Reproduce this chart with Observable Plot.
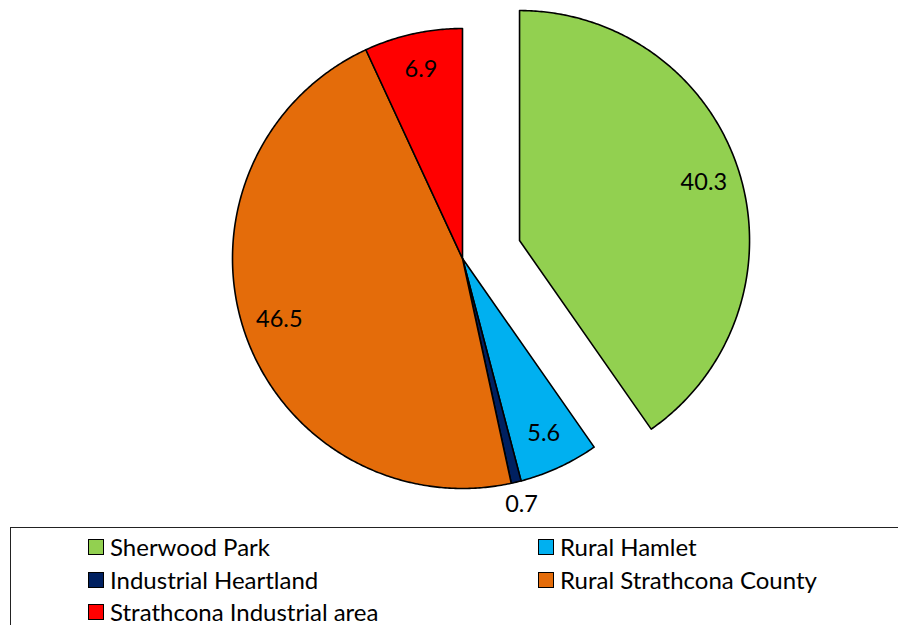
<!DOCTYPE html>
<html>
<head>
<meta charset="utf-8">
<script src="https://cdn.jsdelivr.net/npm/d3@7"></script>
<script src="https://cdn.jsdelivr.net/npm/@observablehq/plot@0.6"></script>
<style>
  body { margin: 0; background: #fff; font-family: Lato, "Open Sans", sans-serif; }
  #chart svg { display: block; }
  .legend { position: relative; margin-left: 10px; width: 900px; height: 110px; border: 1px solid #222; box-sizing: border-box; }
  .item { position: absolute; display: flex; align-items: center; font-size: 24px; line-height: 28px; color: #000; white-space: nowrap; }
  .sw { width: 16px; height: 16px; border: 1.5px solid #000; margin-right: 6px; box-sizing: border-box; }
</style>
</head>
<body>
<div id="chart"></div>
<div class="legend" id="legend"></div>
<script>
const names = ["Sherwood Park", "Rural Hamlet", "Industrial Heartland", "Rural Strathcona County", "Strathcona Industrial area"];
const values = [40.3, 5.6, 0.7, 46.5, 6.9];
const colors = ["#92d050", "#00b0f0", "#002060", "#e46c0a", "#ff0000"];
const legendOrder = ["Sherwood Park", "Rural Hamlet", "Industrial Heartland", "Rural Strathcona County", "Strathcona Industrial area"];
const explodedName = "Sherwood Park";
const explodeFrac = 0.26;

const total = d3.sum(values);
const arcs = d3.pie().sort(null).value(d => d.v).startAngle(0).endAngle(2 * Math.PI)(names.map((n, i) => ({n, v: values[i]})));

const polyPts = [];
const labels = [];
arcs.forEach(a => {
  const name = a.data.n;
  const mid = (a.startAngle + a.endAngle) / 2;
  const off = name === explodedName ? explodeFrac : 0;
  const cx = off * Math.sin(mid), cy = off * Math.cos(mid);
  const steps = Math.max(2, Math.ceil((a.endAngle - a.startAngle) / (Math.PI / 360)));
  polyPts.push({name, x: cx, y: cy});
  for (let k = 0; k <= steps; k++) {
    const t = a.startAngle + (a.endAngle - a.startAngle) * k / steps;
    polyPts.push({name, x: cx + Math.sin(t), y: cy + Math.cos(t)});
  }
  polyPts.push({name, x: cx, y: cy});
  const small = a.data.v / total < 0.02;
  const lr = small ? 1.1 : 0.84;
  labels.push({name, x: cx + lr * Math.sin(mid), y: cy + lr * Math.cos(mid), label: a.data.v.toFixed(1)});
});

const plot = Plot.plot({
  width: 898,
  height: 527,
  margin: 0,
  x: {domain: [-1, 1], range: [232, 692], axis: null},
  y: {domain: [-1, 1], range: [488, 28], axis: null},
  color: {domain: names, range: colors},
  style: {fontFamily: "Lato, 'Open Sans', sans-serif", background: "#fff"},
  marks: [
    Plot.line(polyPts, {x: "x", y: "y", z: "name", fill: "name", stroke: "#000", strokeWidth: 1.6, strokeLinejoin: "round"}),
    Plot.text(labels, {x: "x", y: "y", text: "label", fontSize: 23.5, fill: "#000"})
  ]
});
document.getElementById("chart").appendChild(plot);

const legend = document.getElementById("legend");
const pos = [[77, 5], [527, 5], [77, 38], [527, 38], [77, 70]];
legendOrder.forEach((n, i) => {
  const el = document.createElement("div");
  el.className = "item";
  el.style.left = pos[i][0] + "px";
  el.style.top = pos[i][1] + "px";
  const sw = document.createElement("div");
  sw.className = "sw";
  sw.style.background = colors[names.indexOf(n)];
  el.appendChild(sw);
  el.appendChild(document.createTextNode(n));
  legend.appendChild(el);
});
</script>
</body>
</html>
